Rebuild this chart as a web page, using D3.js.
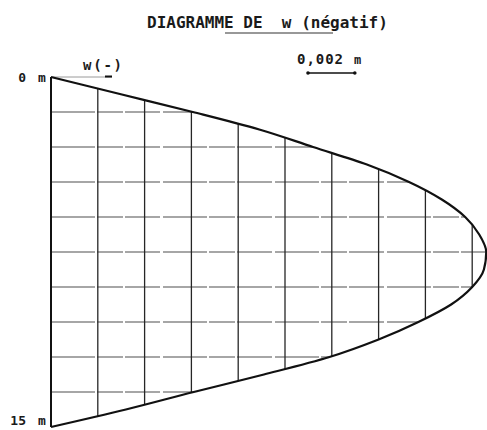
<!DOCTYPE html>
<html>
<head>
<meta charset="utf-8">
<script src="https://cdn.jsdelivr.net/npm/d3@7"></script>
<style>
  html, body { margin: 0; padding: 0; background: #ffffff; }
  svg { display: block; }
  text { font-family: "DejaVu Sans Mono", "Liberation Mono", monospace; fill: #1a1a1a; font-weight: bold; }
</style>
</head>
<body>
<svg id="chart" width="487" height="430"></svg>
<script>
// Depth below the top (m) and negative deflection w (m) along the wall
const depths = [0, 0.75, 1.5, 2.25, 3, 3.75, 4.5, 5.25, 6, 6.75, 7.5,
                8.25, 9, 9.75, 10.5, 11.25, 12, 12.75, 13.5, 14.25, 15];
const wValues = [0, 0.00303, 0.00606, 0.0089, 0.0112, 0.0135, 0.0153, 0.0167, 0.0177, 0.0183, 0.0186,
                 0.0185, 0.0180, 0.0171, 0.0157, 0.0140, 0.0119, 0.0091, 0.0061, 0.0032, 0];

// Grid: vertical lines every 0.002 m of w, horizontal lines every 1.5 m of depth
const wGrid = [0.002, 0.004, 0.006, 0.008, 0.010, 0.012, 0.014, 0.016, 0.018];
const depthGrid = [1.5, 3, 4.5, 6, 7.5, 9, 10.5, 12, 13.5];
const depthLabels = [{d: 0, t: "0", base: 82}, {d: 15, t: "15", base: 425}];
const scaleBarValue = 0.002;

const svg = d3.select("#chart");

const x = d3.scaleLinear().domain([0, 0.02]).range([51, 519]);
const y = d3.scaleLinear().domain([0, 15]).range([77, 427]);

const data = depths.map((d, i) => ({d, w: wValues[i]}));

const line = d3.line()
  .x(p => x(p.w))
  .y(p => y(p.d))
  .curve(d3.curveMonotoneY);

// Hidden copy of the curve used to find where grid lines meet it
const probe = svg.append("path").attr("d", line(data)).attr("fill", "none").attr("stroke", "none");
const node = probe.node();
const total = node.getTotalLength();
const samples = [];
for (let s = 0; s <= total; s += 0.5) samples.push(node.getPointAtLength(s));
samples.push(node.getPointAtLength(total));
let iMax = 0;
samples.forEach((p, i) => { if (p.x > samples[iMax].x) iMax = i; });

function crossing(px, from, to, step) {
  for (let i = from; i !== to; i += step) {
    const a = samples[i], b = samples[i + step];
    if ((a.x - px) * (b.x - px) <= 0 && a.x !== b.x) {
      const t = (px - a.x) / (b.x - a.x);
      return a.y + t * (b.y - a.y);
    }
  }
  return null;
}

// Horizontal grid lines (lighter, broken)
svg.append("g").selectAll("line")
  .data(depthGrid)
  .join("line")
  .attr("x1", x(0))
  .attr("x2", d => x(wValues[depths.indexOf(d)]))
  .attr("y1", d => y(d))
  .attr("y2", d => y(d))
  .attr("stroke", "#4e4e4e")
  .attr("stroke-width", 1.1)
  .attr("stroke-dasharray", "44,2,26,2,35,3");

// Vertical grid lines between the upper and lower branches of the curve
svg.append("g").selectAll("line")
  .data(wGrid)
  .join("line")
  .attr("x1", w => x(w))
  .attr("x2", w => x(w))
  .attr("y1", w => crossing(x(w), 0, iMax, 1))
  .attr("y2", w => crossing(x(w), samples.length - 1, iMax, -1))
  .attr("stroke", "#262626")
  .attr("stroke-width", 1.3);

// Light w reference line at the top
svg.append("line")
  .attr("x1", x(0)).attr("x2", 112)
  .attr("y1", y(0)).attr("y2", y(0))
  .attr("stroke", "#9a9a9a").attr("stroke-width", 1);
svg.append("line")
  .attr("x1", 105).attr("x2", 112)
  .attr("y1", 76.5).attr("y2", 76.5)
  .attr("stroke", "#111").attr("stroke-width", 2);

// Depth axis
svg.append("line")
  .attr("x1", x(0)).attr("x2", x(0))
  .attr("y1", y(0)).attr("y2", y(15))
  .attr("stroke", "#111").attr("stroke-width", 2);

// Deflection curve
svg.append("path")
  .attr("d", line(data))
  .attr("fill", "none")
  .attr("stroke", "#111")
  .attr("stroke-width", 2.2);

// Depth labels
depthLabels.forEach(l => {
  svg.append("text")
    .attr("x", 26)
    .attr("y", l.base)
    .attr("text-anchor", "end")
    .attr("font-size", 13)
    .text(l.t);
  svg.append("text")
    .attr("x", 38)
    .attr("y", l.base)
    .attr("font-size", 13)
    .text("m");
});

// Title
svg.append("text")
  .attr("x", 147)
  .attr("y", 28)
  .attr("font-size", 16)
  .attr("xml:space", "preserve")
  .text("DIAGRAMME DE  w (négatif)");
svg.append("line")
  .attr("x1", 225).attr("x2", 333)
  .attr("y1", 33).attr("y2", 33)
  .attr("stroke", "#333").attr("stroke-width", 1.2);

// Axis name for w
svg.append("text")
  .attr("x", 83)
  .attr("y", 70)
  .attr("font-size", 14)
  .attr("textLength", 39)
  .attr("lengthAdjust", "spacing")
  .text("w(-)");

// Scale bar
const sb0 = 308;
const sb1 = sb0 + (x(scaleBarValue) - x(0));
svg.append("text")
  .attr("x", 297)
  .attr("y", 64)
  .attr("font-size", 14)
  .attr("textLength", 46)
  .attr("lengthAdjust", "spacing")
  .text(d3.format(".3f")(scaleBarValue).replace(".", ","));
svg.append("text")
  .attr("x", 354)
  .attr("y", 64)
  .attr("font-size", 12)
  .text("m");
svg.append("line")
  .attr("x1", sb0).attr("x2", sb1)
  .attr("y1", 73).attr("y2", 73)
  .attr("stroke", "#111").attr("stroke-width", 1.6);
svg.selectAll("circle.sb")
  .data([sb0, sb1])
  .join("circle")
  .attr("class", "sb")
  .attr("cx", d => d).attr("cy", 73).attr("r", 1.8)
  .attr("fill", "#111");
</script>
</body>
</html>
